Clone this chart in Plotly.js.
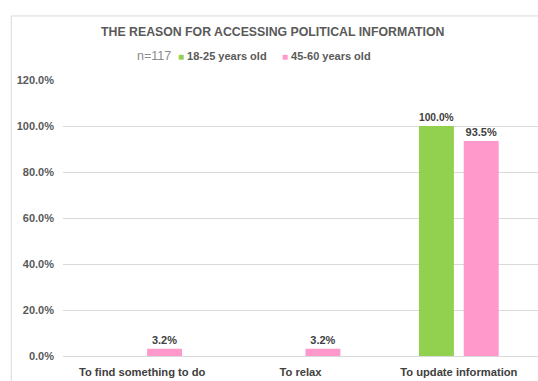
<!DOCTYPE html>
<html>
<head>
<meta charset="utf-8">
<script src="https://cdn.plot.ly/plotly-3.0.1.min.js"></script>
<style>html,body{margin:0;padding:0;background:#fff;}#chart{width:538px;height:381px;}</style>
</head>
<body>
<div id="chart"></div>
<script>
var categories = ["To find something to do", "To relax", "To update information"];
var seriesNames = ["18-25 years old", "45-60 years old"];
var seriesColors = ["#92D050", "#FF99CC"];
var young = [0, 0, 1.0];
var old = [0.032, 0.032, 0.935];
var sampleLabel = "n=117";
var titleText = "THE REASON FOR ACCESSING POLITICAL INFORMATION";

function labels(vals){ return vals.map(function(v){ return v > 0 ? (v*100).toFixed(1) + "%" : ""; }); }

var lblFont = {family: "Liberation Sans, Arial, sans-serif", size: 11, color: "#404040", weight: "bold"};

var traces = [
  {type: "bar", name: seriesNames[0], x: categories, y: young, marker: {color: seriesColors[0]}, showlegend: false,
   text: labels(young), textposition: "outside", textfont: lblFont, cliponaxis: false, hoverinfo: "none"},
  {type: "bar", name: seriesNames[1], x: categories, y: old, marker: {color: seriesColors[1]}, showlegend: false,
   text: labels(old), textposition: "outside", textfont: lblFont, cliponaxis: false, hoverinfo: "none"}
];

var legY = 1.087;
function legendItem(i, xPaper){
  return {text: "<span style='color:" + seriesColors[i] + ";font-size:10px'>■</span> <b>" + seriesNames[i] + "</b>",
          xref: "paper", yref: "paper", x: xPaper, y: legY, xanchor: "left", yanchor: "middle",
          showarrow: false, font: {size: 11, color: "#595959"}};
}

var layout = {
  width: 538, height: 381,
  margin: {l: 63, r: 0, t: 80, b: 25},
  paper_bgcolor: "#ffffff", plot_bgcolor: "#ffffff",
  font: {family: "Liberation Sans, Arial, sans-serif", color: "#595959"},
  title: {text: "<b>" + titleText + "</b>", x: 0.507, xanchor: "center", y: 0.916, yanchor: "middle",
          font: {size: 12.3, color: "#595959", family: "Liberation Sans, Arial, sans-serif"}},
  barmode: "group", bargap: 0.434, bargroupgap: 0.22,
  showlegend: false,
  xaxis: {type: "category", showgrid: false, showline: false, zeroline: false, ticks: "", ticklabelstandoff: 8,
          tickfont: {size: 11.2, color: "#404040", weight: "bold"}},
  yaxis: {range: [0, 1.2], dtick: 0.2, tickformat: ".1%", showgrid: true, gridcolor: "#d9d9d9",
          zeroline: true, zerolinecolor: "#d9d9d9", showline: false, ticks: "", ticklabelstandoff: 8,
          tickfont: {size: 11, color: "#595959", weight: "bold"}, fixedrange: true},
  annotations: [
    {text: sampleLabel, xref: "paper", yref: "paper", x: 0.151, y: legY, xanchor: "left", yanchor: "middle",
     showarrow: false, font: {size: 12.5, color: "#8c8c8c"}},
    legendItem(0, 0.238),
    legendItem(1, 0.456)
  ],
  shapes: [
    {type: "rect", xref: "paper", yref: "paper", x0: -0.109, x1: 1.2, y0: -0.3, y1: 1.232,
     line: {color: "#d9d9d9", width: 1}, fillcolor: "rgba(0,0,0,0)", layer: "below"}
  ]
};

Plotly.newPlot("chart", traces, layout, {displayModeBar: false, staticPlot: true});
</script>
</body>
</html>
